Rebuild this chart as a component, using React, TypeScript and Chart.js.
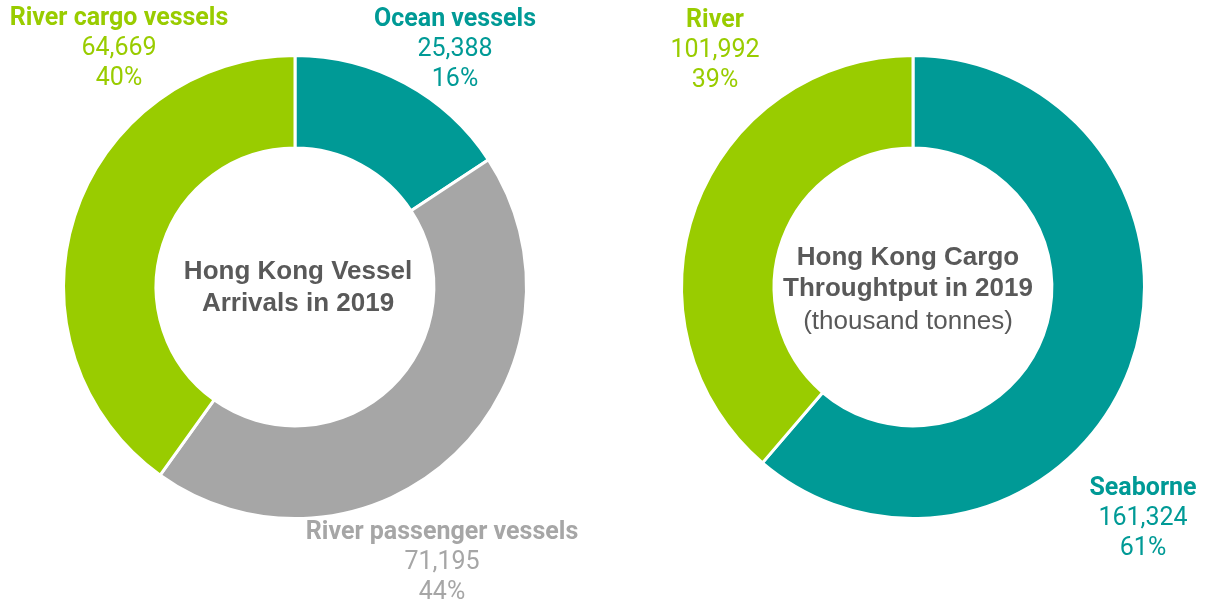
import React, { useEffect, useRef } from 'react';
import { Chart, registerables } from 'chart.js';
Chart.register(...registerables);

const arrivalCategories = ['Ocean vessels', 'River passenger vessels', 'River cargo vessels'];
const arrivalValues = [25388, 71195, 64669];
const arrivalColors = ['#009A96', '#A6A6A6', '#99CC00'];
const arrivalTitle = ['Hong Kong Vessel', 'Arrivals in 2019'];

const cargoCategories = ['Seaborne', 'River'];
const cargoValues = [161324, 101992];
const cargoColors = ['#009A96', '#99CC00'];
const cargoTitle = ['Hong Kong Cargo', 'Throughtput in 2019'];
const cargoSubtitle = '(thousand tonnes)';

type LabelPos = { x: number; y: number };

function makeChart(
  canvas: HTMLCanvasElement,
  categories: string[],
  values: number[],
  colors: string[],
  labelPos: LabelPos[],
  title: string[],
  subtitle: string | null,
  center: { x: number; y: number[] },
  padding: { left: number; right: number; top: number; bottom: number }
) {
  const total = values.reduce((a, b) => a + b, 0);
  const labelPlugin = {
    id: 'labelPlugin',
    afterDraw(chart: any) {
      const ctx = chart.ctx as CanvasRenderingContext2D;
      ctx.save();
      ctx.textAlign = 'center';
      ctx.textBaseline = 'middle';
      categories.forEach((cat, i) => {
        const p = labelPos[i];
        ctx.fillStyle = colors[i];
        ctx.font = 'bold 25px Roboto';
        ctx.fillText(cat, p.x, p.y);
        ctx.font = '25px Roboto';
        ctx.fillText(values[i].toLocaleString('en-US'), p.x, p.y + 30);
        ctx.fillText(Math.round((values[i] / total) * 100) + '%', p.x, p.y + 60);
      });
      ctx.fillStyle = '#595959';
      ctx.font = 'bold 26px "Liberation Sans", Arial, sans-serif';
      title.forEach((t, i) => ctx.fillText(t, center.x, center.y[i]));
      if (subtitle) {
        ctx.font = '26px "Liberation Sans", Arial, sans-serif';
        ctx.fillText(subtitle, center.x, center.y[title.length]);
      }
      ctx.restore();
    },
  };
  return new Chart(canvas, {
    type: 'doughnut',
    data: {
      labels: categories,
      datasets: [
        {
          data: values,
          backgroundColor: colors,
          borderColor: '#FFFFFF',
          borderWidth: 3,
        },
      ],
    },
    options: {
      responsive: false,
      animation: false,
      devicePixelRatio: 1,
      cutout: '60%',
      events: [],
      layout: { padding },
      plugins: { legend: { display: false }, tooltip: { enabled: false } },
    },
    plugins: [labelPlugin],
  });
}

export default function App() {
  const leftRef = useRef<HTMLCanvasElement>(null);
  const rightRef = useRef<HTMLCanvasElement>(null);
  useEffect(() => {
    document.body.style.margin = '0';
    const c1 = makeChart(
      leftRef.current!,
      arrivalCategories,
      arrivalValues,
      arrivalColors,
      [
        { x: 455, y: 20 },
        { x: 442, y: 533 },
        { x: 119, y: 19 },
      ],
      arrivalTitle,
      null,
      { x: 298, y: [272, 304] },
      { left: 62, right: 76, top: 54, bottom: 85 }
    );
    const c2 = makeChart(
      rightRef.current!,
      cargoCategories,
      cargoValues,
      cargoColors,
      [
        { x: 539, y: 489 },
        { x: 111, y: 21 },
      ],
      cargoTitle,
      cargoSubtitle,
      { x: 304, y: [258, 289, 322] },
      { left: 76, right: 63, top: 54, bottom: 85 }
    );
    return () => {
      c1.destroy();
      c2.destroy();
    };
  }, []);
  return (
    <div style={{ position: 'relative', width: 1209, height: 605, background: '#fff' }}>
      <canvas ref={leftRef} width={604} height={605} style={{ position: 'absolute', left: 0, top: 0 }} />
      <canvas ref={rightRef} width={605} height={605} style={{ position: 'absolute', left: 604, top: 0 }} />
    </div>
  );
}
